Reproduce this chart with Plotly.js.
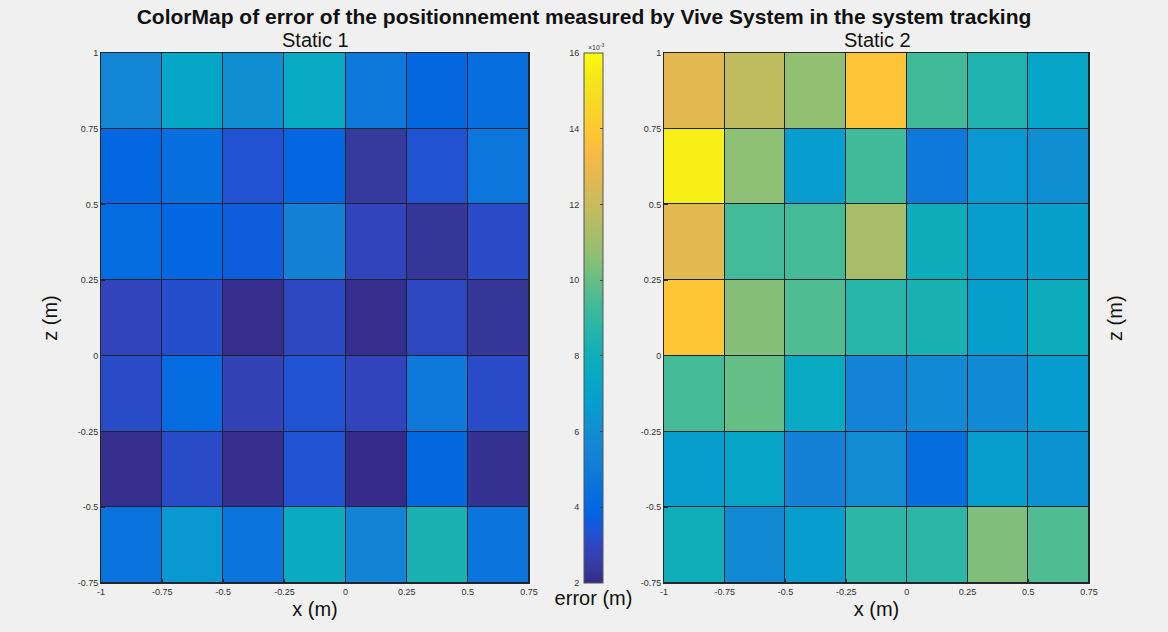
<!DOCTYPE html>
<html>
<head>
<meta charset="utf-8">
<script src="https://cdn.plot.ly/plotly-3.0.1.min.js"></script>
<style>
  html, body { margin: 0; padding: 0; background: #f0f0f0; }
  #chart { width: 1168px; height: 632px; }
</style>
</head>
<body>
<div id="chart"></div>
<script>
// Grid cell centres (metres)
const xCenters = [-0.875, -0.625, -0.375, -0.125, 0.125, 0.375, 0.625];
const zCenters = [0.875, 0.625, 0.375, 0.125, -0.125, -0.375, -0.625]; // top row first

// Positioning error, in units of 10^-3 m, rows listed top (z = 0.875) to bottom
const errStatic1 = [
  [5.6, 7.3, 6.0, 7.5, 4.8, 4.1, 4.4],
  [4.0, 4.4, 3.3, 4.0, 2.4, 3.3, 4.7],
  [4.2, 4.0, 3.6, 5.3, 2.9, 2.3, 3.1],
  [2.9, 3.2, 2.1, 3.0, 2.1, 3.0, 2.3],
  [3.1, 4.2, 2.8, 3.3, 2.9, 4.8, 3.1],
  [2.1, 3.1, 2.1, 3.3, 2.0, 4.1, 2.2],
  [4.5, 6.5, 4.6, 7.6, 5.5, 8.3, 4.6]
];
const errStatic2 = [
  [12.7, 11.8, 10.7, 13.8, 9.3, 8.5, 7.2],
  [15.6, 10.6, 6.7, 9.3, 4.8, 6.5, 6.0],
  [12.7, 9.35, 9.4, 11.2, 7.9, 6.8, 6.9],
  [13.9, 10.5, 9.6, 8.7, 8.3, 6.9, 7.8],
  [9.4, 10.0, 7.5, 5.4, 5.8, 5.8, 6.6],
  [6.8, 7.2, 5.3, 5.9, 4.3, 6.8, 6.2],
  [8.0, 5.8, 6.7, 8.8, 8.8, 10.4, 9.6]
];

// Axis ticks
const xTickVals = [-1, -0.75, -0.5, -0.25, 0, 0.25, 0.5, 0.75];
const xTickLabels = ['-1', '-0.75', '-0.5', '-0.25', '0', '0.25', '0.5', '0.75'];
const zTickVals = [-0.75, -0.5, -0.25, 0, 0.25, 0.5, 0.75, 1];
const zTickLabels = ['-0.75', '-0.5', '-0.25', '0', '0.25', '0.5', '0.75', '1'];
const errTickVals = [2, 4, 6, 8, 10, 12, 14, 16];
const errTickLabels = ['2', '4', '6', '8', '10', '12', '14', '16'];
const errMin = 2, errMax = 16;

// Parula colormap
const parula = [
  [0.000, '#352a87'], [0.032, '#363ca0'], [0.063, '#3243ba'], [0.095, '#2053d4'],
  [0.127, '#0363e1'], [0.159, '#046ce0'], [0.190, '#0c75dc'], [0.238, '#1481d6'],
  [0.286, '#108ed2'], [0.333, '#079ccf'], [0.381, '#06a7c6'], [0.429, '#0faeb9'],
  [0.476, '#25b5a9'], [0.524, '#42ba98'], [0.571, '#65be86'], [0.619, '#91bf73'],
  [0.667, '#aebd67'], [0.714, '#c8bb5d'], [0.762, '#e1b952'], [0.810, '#f8ba44'],
  [0.841, '#ffc337'], [0.905, '#f7d826'], [0.952, '#f5e71a'], [1.000, '#f9fb0e']
];

const rev = a => a.slice().reverse();

const FONT = 'Liberation Sans, Arial, sans-serif';
const TICKFONT = { family: FONT, size: 9, color: '#333333' };
const AXISTITLEFONT = { family: FONT, size: 20, color: '#111111' };

const H = 632, W = 1168;
const yTop = 1 - 53 / H, yBot = 1 - 583 / H;

const heat = (z, xa, ya, showScale) => ({
  type: 'heatmap',
  x: xCenters,
  y: rev(zCenters),
  z: rev(z),
  xaxis: xa, yaxis: ya,
  zmin: errMin, zmax: errMax,
  colorscale: parula,
  xgap: 1, ygap: 1,
  showscale: showScale,
  hoverinfo: 'x+y+z',
  colorbar: showScale ? {
    x: 584 / W, xanchor: 'left', xpad: 0,
    y: (yTop + yBot) / 2, yanchor: 'middle', ypad: 0,
    len: yTop - yBot, lenmode: 'fraction',
    thickness: 19, thicknessmode: 'pixels',
    outlinewidth: 1, outlinecolor: '#555555',
    ticks: 'inside', ticklen: 3, tickcolor: '#444444',
    tickvals: errTickVals, showticklabels: false
  } : undefined
});

const data = [
  heat(errStatic1, 'x', 'y', true),
  heat(errStatic2, 'x2', 'y2', false),
  // empty trace so the colour-bar label axes get drawn
  { type: 'scatter', mode: 'markers', x: [], y: [], xaxis: 'x3', yaxis: 'y3',
    hoverinfo: 'skip', showlegend: false }
];

const cellAxisX = (domain, anchor) => ({
  domain: domain, anchor: anchor,
  range: [-1, 0.75],
  tickmode: 'array', tickvals: xTickVals, ticktext: xTickLabels,
  ticks: 'inside', ticklen: 4, tickcolor: '#262626',
  tickfont: TICKFONT,
  showline: true, linecolor: '#262626', linewidth: 1, mirror: true,
  showgrid: false, zeroline: false,
  title: { text: 'x (m)', font: AXISTITLEFONT, standoff: 6 }
});
const cellAxisY = (domain, anchor) => ({
  domain: domain, anchor: anchor,
  range: [-0.75, 1],
  tickmode: 'array', tickvals: zTickVals, ticktext: zTickLabels,
  ticks: 'inside', ticklen: 4, tickcolor: '#262626',
  tickfont: TICKFONT,
  showline: true, linecolor: '#262626', linewidth: 1, mirror: true,
  showgrid: false, zeroline: false
});

const yAxisLeft = cellAxisY([yBot, yTop], 'x');
yAxisLeft.title = { text: 'z (m)', font: AXISTITLEFONT, standoff: 14 };

const layout = {
  width: W, height: H,
  margin: { l: 0, r: 0, t: 0, b: 0 },
  paper_bgcolor: '#f0f0f0',
  plot_bgcolor: '#1d2330',
  showlegend: false,
  font: { family: FONT, color: '#111111' },
  title: {
    text: '<b>ColorMap of error of the positionnement measured by Vive System in the system tracking</b>',
    font: { family: 'Liberation Sans Narrow, Liberation Sans, Arial, sans-serif', size: 21, color: '#111111' },
    x: 0.5, xanchor: 'center', xref: 'paper',
    y: 1 - 17 / H, yanchor: 'middle', yref: 'paper'
  },
  xaxis: cellAxisX([101 / W, 529 / W], 'y'),
  yaxis: yAxisLeft,
  xaxis2: cellAxisX([664 / W, 1089 / W], 'y2'),
  yaxis2: cellAxisY([yBot, yTop], 'x2'),
  // label axis beside the colour bar
  xaxis3: {
    domain: [584 / W, 603 / W], anchor: 'y3', range: [0, 1],
    showticklabels: false, ticks: '', showline: false, showgrid: false, zeroline: false,
    fixedrange: true,
    title: { text: 'error (m)', font: AXISTITLEFONT, standoff: 7 }
  },
  yaxis3: {
    domain: [yBot, yTop], anchor: 'x3', range: [errMin, errMax],
    tickmode: 'array', tickvals: errTickVals, ticktext: errTickLabels,
    ticks: 'outside', ticklen: 2, tickcolor: 'rgba(0,0,0,0)', tickfont: TICKFONT,
    showline: false, showgrid: false, zeroline: false, fixedrange: true
  },
  annotations: [
    { text: 'Static 1', xref: 'paper', yref: 'paper', x: 315 / W, y: 1 - 40 / H,
      xanchor: 'center', yanchor: 'middle', showarrow: false,
      font: { family: FONT, size: 20, color: '#111111' } },
    { text: 'Static 2', xref: 'paper', yref: 'paper', x: 877 / W, y: 1 - 40 / H,
      xanchor: 'center', yanchor: 'middle', showarrow: false,
      font: { family: FONT, size: 20, color: '#111111' } },
    { text: 'z (m)', xref: 'paper', yref: 'paper', x: 1115 / W, y: (yTop + yBot) / 2,
      xanchor: 'center', yanchor: 'middle', textangle: -90, showarrow: false,
      font: AXISTITLEFONT },
    { text: '×10<sup>-3</sup>', xref: 'paper', yref: 'paper', x: 586 / W, y: yTop,
      xanchor: 'left', yanchor: 'bottom', showarrow: false,
      font: { family: FONT, size: 7, color: '#333333' } }
  ]
};

Plotly.newPlot('chart', data, layout, { displayModeBar: false, staticPlot: true });
</script>
</body>
</html>
